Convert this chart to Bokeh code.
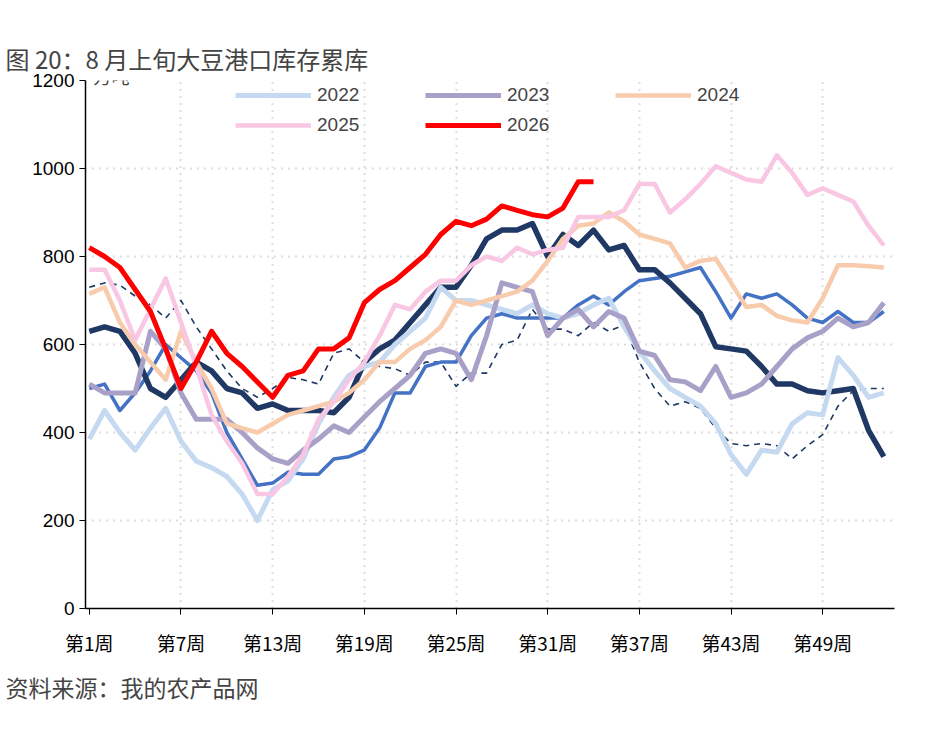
from bokeh.plotting import figure
from bokeh.models import Legend, LegendItem, FixedTicker, Title, Label, Range1d
from bokeh.embed import file_html
from bokeh.resources import INLINE

weeks = list(range(1, 54))
y2019 = [730,740,735,710,690,660,700,640,590,540,500,480,500,525,520,510,580,590,560,550,
         545,530,560,560,505,535,535,600,610,680,635,635,620,650,630,645,560,500,460,470,
         455,410,375,370,375,370,340,370,395,460,495,500,500]
y2020 = [500,510,450,490,540,600,570,540,490,400,340,280,285,310,305,305,340,345,360,410,
         490,490,550,560,560,620,660,670,660,660,660,660,690,710,690,720,745,750,755,765,
         775,720,660,715,705,715,690,660,650,675,650,650,675]
y2021 = [630,640,630,580,500,480,520,560,540,500,490,455,465,450,450,450,445,480,560,590,
         610,650,690,730,730,780,840,860,860,875,800,850,825,860,815,825,770,770,740,705,
         670,595,590,585,550,510,510,495,490,495,500,405,345]
y2022 = [385,450,400,360,410,455,380,335,320,300,260,200,270,290,340,420,480,530,550,560,
         600,630,660,730,700,700,690,680,670,690,670,660,670,690,705,640,585,540,500,480,
         460,420,350,305,360,355,420,445,440,570,530,480,490]
y2023 = [510,490,490,490,630,590,490,430,430,430,400,365,340,330,360,385,415,400,435,470,
         500,530,580,590,580,520,620,740,730,720,620,660,680,640,675,660,585,575,520,515,
         495,550,480,490,510,550,590,615,630,660,640,650,695]
y2024 = [715,730,650,600,560,520,630,560,500,420,410,400,420,440,450,460,470,490,520,560,
         560,590,610,640,700,690,700,710,720,745,790,840,870,875,900,880,850,840,830,775,
         790,795,740,685,690,665,655,650,705,780,780,778,775]
y2025 = [770,770,700,610,680,750,650,550,440,380,330,260,260,300,350,430,470,520,560,620,
         690,680,720,745,745,780,800,790,820,805,815,820,890,890,890,905,965,965,900,930,
         965,1005,990,975,970,1030,990,940,955,940,925,870,825]
y2026 = [820,800,775,725,675,590,500,560,630,580,550,515,480,530,540,590,590,615,695,725,
         745,775,805,850,880,870,885,915,905,895,890,910,970,970]
years = ["2019","2020","2021","2022","2023","2024","2025","2026"]
ticks = [1,7,13,19,25,31,37,43,49]

FONT = "Liberation Sans"
CJK = "Noto Sans CJK SC"

p = figure(width=934, height=712, output_backend="svg", toolbar_location=None,
           x_range=Range1d(0.75, 53.7), y_range=Range1d(0, 1200),
           min_border_left=85, min_border_right=40, min_border_top=80, min_border_bottom=20)
p.outline_line_color = None
p.background_fill_color = "white"

styles = [
    (y2019, "#1F3864", 1.6, "6 5"),
    (y2020, "#4472C4", 3.5, "solid"),
    (y2021, "#203864", 5.5, "solid"),
    (y2022, "#C5D9F1", 5, "solid"),
    (y2023, "#A9A0C8", 5, "solid"),
    (y2024, "#F8CBAD", 4.5, "solid"),
    (y2025, "#F9C6E4", 4.5, "solid"),
    (y2026, "#FF0000", 5, "solid"),
]
items = []
for name, (ys, c, w, d) in zip(years, styles):
    r = p.line(weeks[:len(ys)], ys, line_color=c, line_width=w, line_dash=d, line_join="round")
    items.append(LegendItem(label=name, renderers=[r]))

leg = Legend(items=items, ncols=3, orientation="horizontal", location=(150, 472),
             glyph_width=76, glyph_height=22,
             label_width=100, label_text_font=FONT, label_text_font_size="19px",
             spacing=8, padding=2, margin=0, border_line_color=None,
             background_fill_alpha=0, label_standoff=6)
p.add_layout(leg)

p.xaxis.ticker = FixedTicker(ticks=ticks, minor_ticks=list(range(1, 54, 3)))
p.xaxis.major_label_overrides = {t: f"第{t}周" for t in ticks}
p.xaxis.major_label_text_font = CJK
p.yaxis.major_label_text_font = FONT
for ax in (p.xaxis, p.yaxis):
    ax.major_label_text_font_size = "19px"
    ax.major_label_text_color = "black"
    ax.axis_line_color = "black"
    ax.axis_line_width = 1.5
    ax.major_tick_line_color = "black"
    ax.minor_tick_line_color = None
    ax.major_tick_in = 0
    ax.major_tick_out = 6
p.yaxis.ticker = FixedTicker(ticks=[0,200,400,600,800,1000,1200])
p.xaxis.major_label_standoff = 14

p.xgrid.ticker = FixedTicker(ticks=ticks[1:])
for g in (p.xgrid, p.ygrid):
    g.grid_line_color = "#BBBBBB"
    g.grid_line_dash = "1 6"
    g.grid_line_width = 2

p.add_layout(Label(x=8, y=520, x_units="screen", y_units="screen", text="万吨",
                   text_font=CJK, text_font_size="18px"))

src = Title(text="资料来源：我的农产品网", text_font=CJK, text_font_size="23px",
            text_font_style="normal", align="left", offset=-80, standoff=18)
p.add_layout(src, "below")
t = Title(text="图 20：8 月上旬大豆港口库存累库", text_font=CJK, text_font_size="24px",
          text_font_style="normal", align="left", offset=-80)
p.add_layout(t, "above")

open("out.html", "w").write(file_html(p, INLINE))
